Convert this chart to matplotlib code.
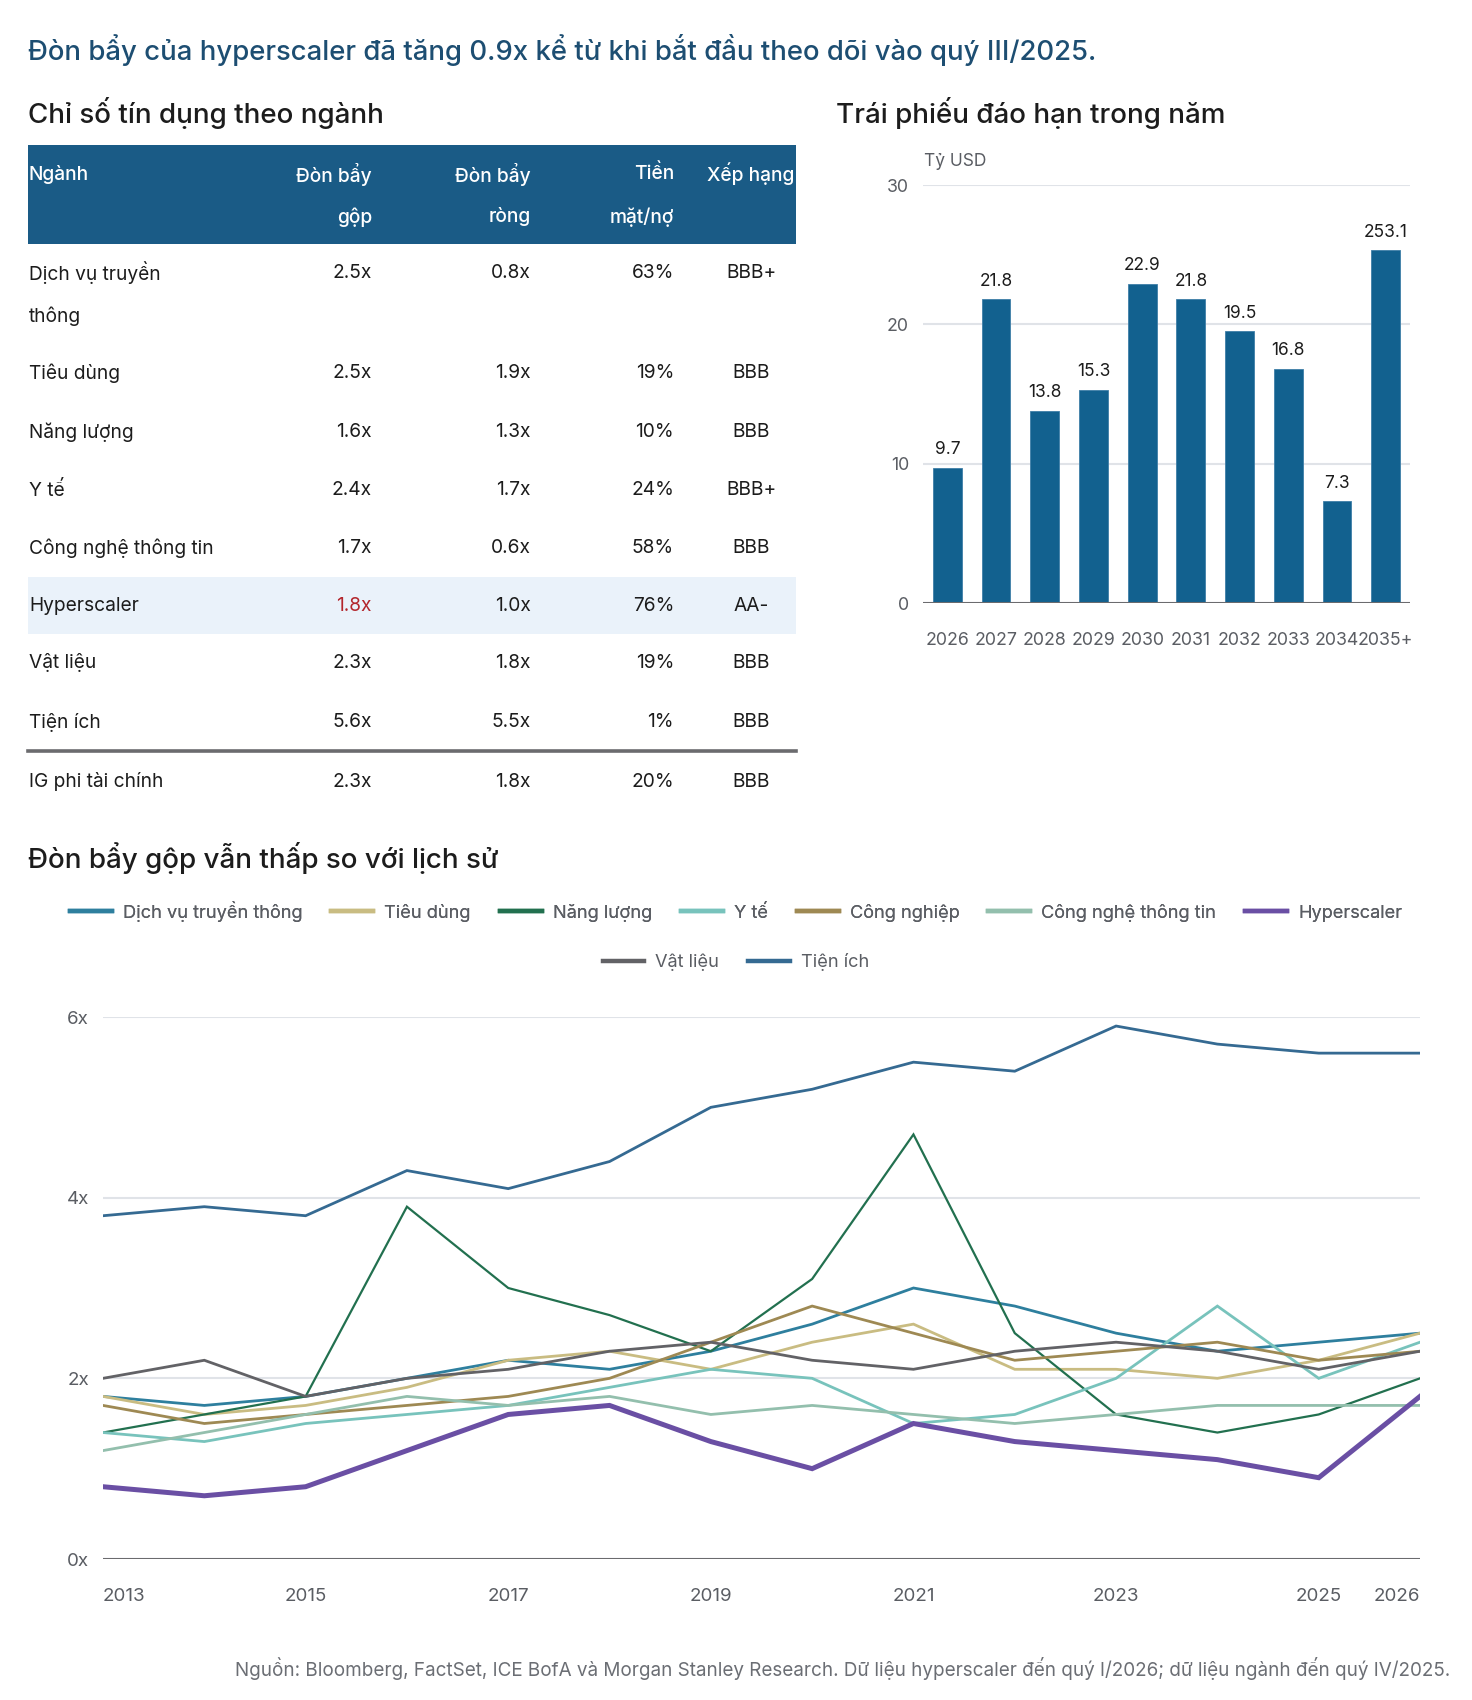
import matplotlib.pyplot as plt
from matplotlib.patches import Rectangle
from matplotlib.lines import Line2D

plt.rcParams['font.family'] = ['Inter', 'DejaVu Sans']

W, H = 1472, 1700

# %% data

# credit metrics table
sectors = ["Dịch vụ truyền\nthông", "Tiêu dùng", "Năng lượng", "Y tế", "Công nghệ thông tin",
           "Hyperscaler", "Vật liệu", "Tiện ích", "IG phi tài chính"]
gross_lev = [2.5, 2.5, 1.6, 2.4, 1.7, 1.8, 2.3, 5.6, 2.3]
net_lev = [0.8, 1.9, 1.3, 1.7, 0.6, 1.0, 1.8, 5.5, 1.8]
cash_debt = [63, 19, 10, 24, 58, 76, 19, 1, 20]
ratings = ["BBB+", "BBB", "BBB", "BBB+", "BBB", "AA-", "BBB", "BBB", "BBB"]
headers = ["Ngành", "Đòn bẩy\ngộp", "Đòn bẩy\nròng", "Tiền\nmặt/nợ", "Xếp hạng"]

# bond maturities
mat_years = ["2026", "2027", "2028", "2029", "2030", "2031", "2032", "2033", "2034", "2035+"]
mat_values = [9.7, 21.8, 13.8, 15.3, 22.9, 21.8, 19.5, 16.8, 7.3, 25.31]
mat_labels = ["9.7", "21.8", "13.8", "15.3", "22.9", "21.8", "19.5", "16.8", "7.3", "253.1"]

# gross leverage history
years = ["2013", "2014", "2015", "2016", "2017", "2018", "2019", "2020",
         "2021", "2022", "2023", "2024", "2025", "2026"]
year_ticks = ["2013", "2015", "2017", "2019", "2021", "2023", "2025", "2026"]
comm = [1.8, 1.7, 1.8, 2.0, 2.2, 2.1, 2.3, 2.6, 3.0, 2.8, 2.5, 2.3, 2.4, 2.5]
cons = [1.8, 1.6, 1.7, 1.9, 2.2, 2.3, 2.1, 2.4, 2.6, 2.1, 2.1, 2.0, 2.2, 2.5]
energy = [1.4, 1.6, 1.8, 3.9, 3.0, 2.7, 2.3, 3.1, 4.7, 2.5, 1.6, 1.4, 1.6, 2.0]
health = [1.4, 1.3, 1.5, 1.6, 1.7, 1.9, 2.1, 2.0, 1.5, 1.6, 2.0, 2.8, 2.0, 2.4]
indus = [1.7, 1.5, 1.6, 1.7, 1.8, 2.0, 2.4, 2.8, 2.5, 2.2, 2.3, 2.4, 2.2, 2.3]
tech = [1.2, 1.4, 1.6, 1.8, 1.7, 1.8, 1.6, 1.7, 1.6, 1.5, 1.6, 1.7, 1.7, 1.7]
hyper = [0.8, 0.7, 0.8, 1.2, 1.6, 1.7, 1.3, 1.0, 1.5, 1.3, 1.2, 1.1, 0.9, 1.8]
mater = [2.0, 2.2, 1.8, 2.0, 2.1, 2.3, 2.4, 2.2, 2.1, 2.3, 2.4, 2.3, 2.1, 2.3]
util = [3.8, 3.9, 3.8, 4.3, 4.1, 4.4, 5.0, 5.2, 5.5, 5.4, 5.9, 5.7, 5.6, 5.6]

series = [
    ("Dịch vụ truyền thông", comm, "#2e7f9e", 2.0),
    ("Tiêu dùng", cons, "#c9bc82", 2.0),
    ("Năng lượng", energy, "#22704f", 1.6),
    ("Y tế", health, "#78c3bc", 2.0),
    ("Công nghiệp", indus, "#9e8953", 2.0),
    ("Công nghệ thông tin", tech, "#93bfad", 2.0),
    ("Hyperscaler", hyper, "#6a4fa4", 3.6),
    ("Vật liệu", mater, "#626266", 2.0),
    ("Tiện ích", util, "#356a92", 2.0),
]

# %% helpers
def fx(x):
    return x / W

def fy(y):
    return 1 - y / H

def ax_rect(left, top, right, bottom):
    return [fx(left), fy(bottom), (right - left) / W, (bottom - top) / H]

fig = plt.figure(figsize=(W / 100, H / 100), dpi=100)

DARK = "#1c1c1c"
GRAY = "#5a5d63"

fig.text(fx(28), fy(50), "Đòn bẩy của hyperscaler đã tăng 0.9x kể từ khi bắt đầu theo dõi vào quý III/2025.",
         fontsize=19.8, color="#1d4e72", va="center", ha="left", fontweight="medium")

# %% table
fig.text(fx(28), fy(113), "Chỉ số tín dụng theo ngành", fontsize=20, color=DARK, va="center",
         fontweight="medium")

fig.add_artist(Rectangle((fx(28), fy(244)), (796 - 28) / W, (244 - 145) / H,
                         transform=fig.transFigure, color="#1a5b86", lw=0))
fig.add_artist(Rectangle((fx(28), fy(634)), (796 - 28) / W, (634 - 577) / H,
                         transform=fig.transFigure, color="#eaf2fa", lw=0))
fig.add_artist(Line2D([fx(28), fx(796)], [fy(751), fy(751)], transform=fig.transFigure,
                      color="#6b6b6e", lw=2.6))

col_x = [29, 372, 531, 674, 751]
col_ha = ["left", "right", "right", "right", "center"]
line_gap = 43
fs_tab = 13.8

for j, head in enumerate(headers):
    for k, part in enumerate(head.split("\n")):
        fig.text(fx(col_x[j]), fy(174 + k * line_gap), part, fontsize=fs_tab, color="white",
                 ha=col_ha[j], va="center", fontweight="medium")

row_y = [273, 373, 432, 490, 548, 606, 663, 722, 782]
for i, name in enumerate(sectors):
    y = row_y[i]
    for k, part in enumerate(name.split("\n")):
        fig.text(fx(col_x[0]), fy(y + k * line_gap), part, fontsize=fs_tab, color=DARK,
                 ha="left", va="center")
    cells = [f"{gross_lev[i]:.1f}x", f"{net_lev[i]:.1f}x", f"{cash_debt[i]}%", ratings[i]]
    for j, cell in enumerate(cells):
        c = DARK
        if sectors[i] == "Hyperscaler" and j == 0:
            c = "#b3262c"
        fig.text(fx(col_x[j + 1]), fy(y), cell, fontsize=fs_tab, color=c,
                 ha=col_ha[j + 1], va="center")

# %% bar chart
fig.text(fx(836), fy(113), "Trái phiếu đáo hạn trong năm", fontsize=20, color=DARK, va="center",
         fontweight="medium")

axb = fig.add_axes(ax_rect(923, 185, 1410, 603))
xb = range(len(mat_years))
axb.bar(xb, mat_values, width=0.59, color="#12618f", edgecolor="#3f7fa8", linewidth=0.6, zorder=3)
for x, v, lab in zip(xb, mat_values, mat_labels):
    axb.annotate(lab, (x, v), xytext=(0, 7), textcoords="offset points", ha="center",
                 va="bottom", fontsize=12.5, color=DARK)
axb.set_xlim(-0.5, len(mat_years) - 0.5)
axb.set_ylim(0, 30)
axb.set_yticks([0, 10, 20, 30])
axb.set_xticks(list(xb))
axb.set_xticklabels(mat_years)
axb.grid(axis="y", color="#e0e3e8", lw=1.5, zorder=0)
axb.axhline(0, color="#6b6b6e", lw=2.2, zorder=4)
for s in axb.spines.values():
    s.set_visible(False)
axb.tick_params(axis="x", length=0, pad=21, labelsize=12.8, labelcolor=GRAY)
axb.tick_params(axis="y", length=0, pad=10, labelsize=12.8, labelcolor=GRAY)
fig.text(fx(924), fy(161), "Tỷ USD", fontsize=12.5, color=GRAY, va="center")

# %% line chart
fig.text(fx(28), fy(858), "Đòn bẩy gộp vẫn thấp so với lịch sử", fontsize=20, color=DARK, va="center",
         fontweight="medium")

axl = fig.add_axes(ax_rect(103, 1017, 1420, 1559))
xl = list(range(len(years)))
handles = []
for name, vals, color, lw in series:
    z = 5 if name == "Hyperscaler" else 3
    axl.plot(xl, vals, color=color, lw=lw, zorder=z, solid_joinstyle="miter")
    handles.append(Line2D([], [], color=color, lw=3.2, label=name))

axl.set_xlim(0, len(years) - 1)
axl.set_ylim(0, 6)
axl.set_yticks([0, 2, 4, 6])
axl.set_yticklabels(["0x", "2x", "4x", "6x"])
axl.set_xticks([years.index(t) for t in year_ticks])
axl.set_xticklabels(year_ticks)
tl = axl.get_xticklabels()
tl[0].set_ha("left")
tl[-1].set_ha("right")
axl.grid(axis="y", color="#e0e3e8", lw=1.5, zorder=0)
axl.axhline(0, color="#6b6b6e", lw=2.2, zorder=4)
for s in axl.spines.values():
    s.set_visible(False)
axl.tick_params(axis="x", length=0, pad=21, labelsize=13.5, labelcolor=GRAY)
axl.tick_params(axis="y", length=0, pad=10, labelsize=13.5, labelcolor=GRAY)

leg_kw = dict(frameon=False, fontsize=13.1, labelcolor=GRAY, handlelength=2.3,
              handletextpad=0.6, columnspacing=1.6, loc="center")
leg1 = fig.legend(handles=handles[:7], ncol=7, bbox_to_anchor=(0.5, fy(911)), **leg_kw)
fig.add_artist(leg1)
fig.legend(handles=handles[7:], ncol=2, bbox_to_anchor=(0.5, fy(962)), **leg_kw)

fig.text(fx(1450), fy(1668),
         "Nguồn: Bloomberg, FactSet, ICE BofA và Morgan Stanley Research. Dữ liệu hyperscaler đến quý I/2026; dữ liệu ngành đến quý IV/2025.",
         fontsize=13.6, color="#6b6e74", ha="right", va="center")

fig.savefig("out.png", dpi=100, facecolor="white")
